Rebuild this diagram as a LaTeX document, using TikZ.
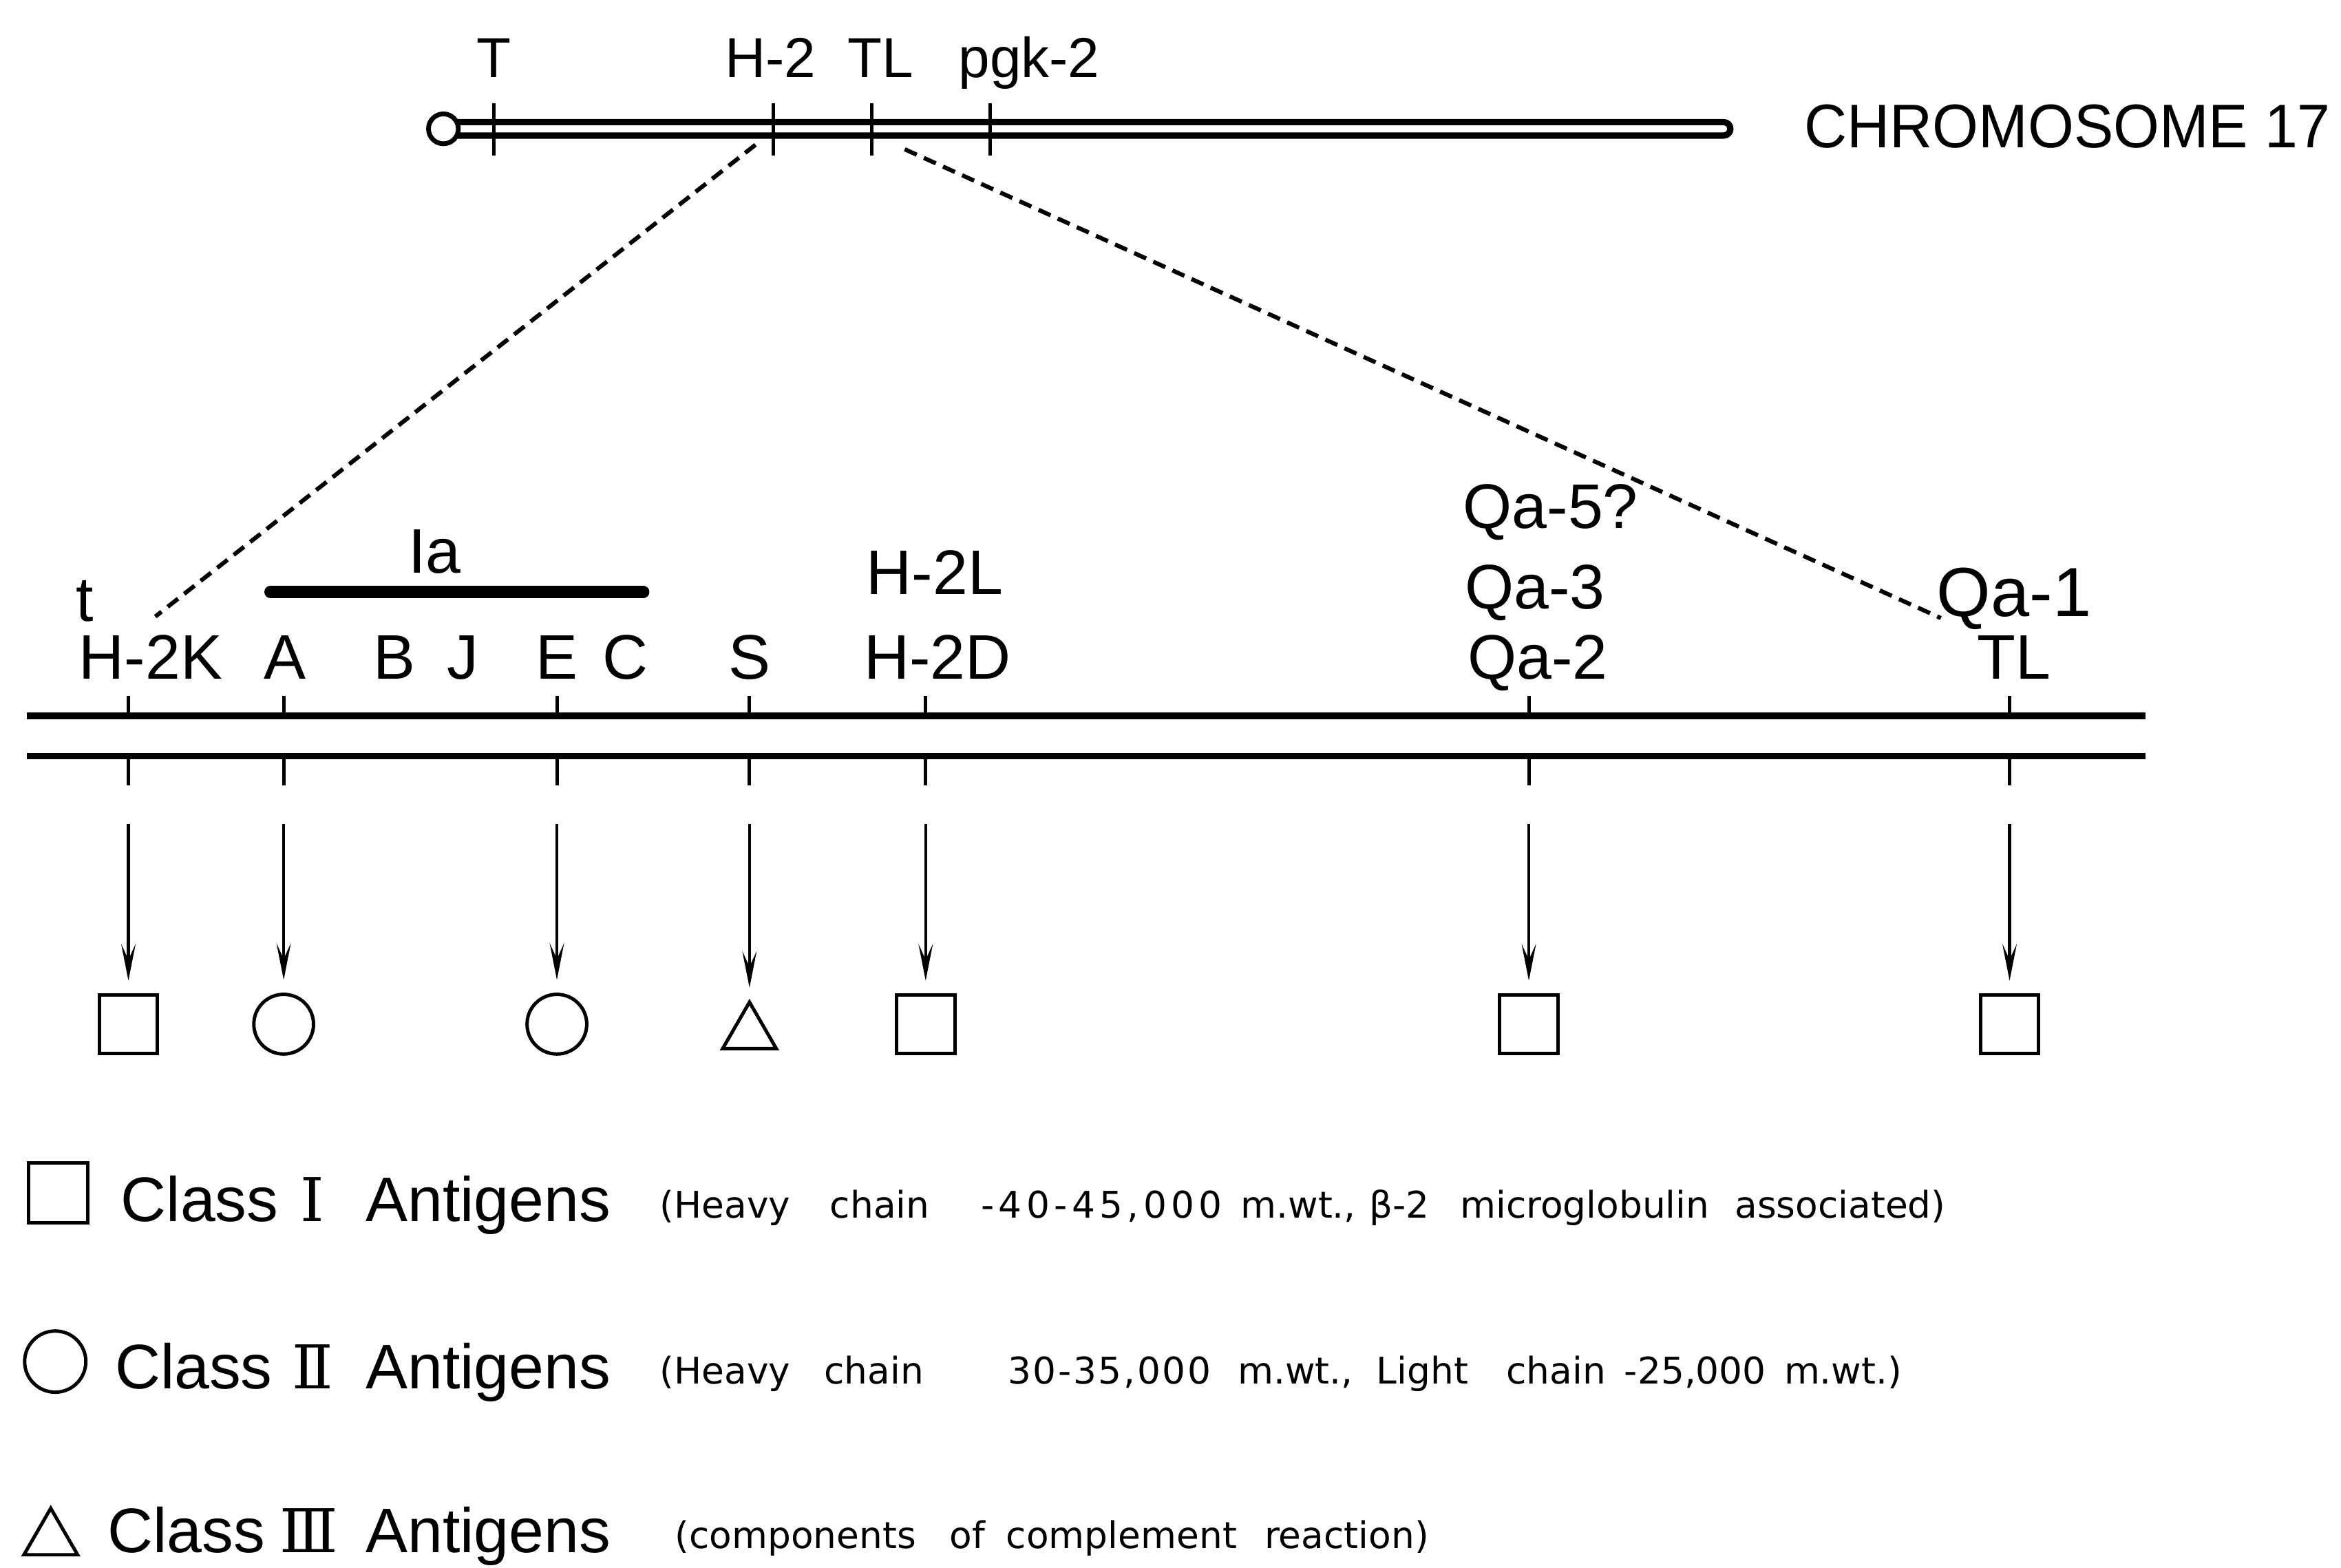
\documentclass[tikz,border=0pt]{standalone}
\usepackage{fontspec}
\setmainfont{Liberation Sans}
\newfontfamily\notefnt{DejaVu Sans}
\newfontfamily\notewide[LetterSpace=12]{DejaVu Sans}
\newfontfamily\notemid[LetterSpace=5]{DejaVu Sans}
\newfontfamily\romfnt{DejaVu Serif}
\usetikzlibrary{arrows.meta,shapes.geometric}
\begin{document}
\begin{tikzpicture}[x=0.02cm,y=-0.02cm,
  every node/.style={inner sep=0pt,outer sep=0pt},
  big/.style={font=\fontsize{24}{28}\selectfont,anchor=base},
  toplbl/.style={font=\fontsize{21.5}{26}\selectfont,anchor=base},
  note/.style={font=\notefnt\fontsize{14}{17}\selectfont,anchor=base west},
  rom/.style={font=\romfnt\fontsize{23}{27}\selectfont,anchor=base},
  tick/.style={line width=1.3pt},
  mapline/.style={line width=2.4pt},
  dashline/.style={line width=1.6pt,dash pattern=on 5pt off 3pt},
  genearrow/.style={line width=1.1pt,-{Stealth[length=14pt,width=5.5pt,inset=6pt]},shorten >=5.5pt},
  sq/.style={draw,line width=1.3pt,rectangle,minimum size=0.78cm},
  circ/.style={draw,line width=1.3pt,circle,minimum size=0.8cm},
  tri/.style={draw,line width=1.3pt,regular polygon,regular polygon sides=3,minimum size=0.83cm},
]
\useasboundingbox (0,0) rectangle (1568,1050);

% ---- chromosome 17 ----
\draw[line width=2.4pt,rounded corners=0.09cm] (300,81.8) rectangle (1159,90.8);
\node[draw,circle,fill=white,line width=1.8pt,minimum size=0.4cm] (cen) at (297,86.3) {};
\foreach \x in {331,518,584,663} \draw[tick] (\x,69) -- (\x,104);
\node[toplbl] (lT) at (331,52) {T};
\node[toplbl] (lH2) at (516,52) {H-2};
\node[toplbl] (lTL) at (590,52) {TL};
\node[toplbl,anchor=base west] (lpgk) at (642,52) {pgk-2};
\node[anchor=base east,font=\fontsize{23.5}{28}\selectfont] (chr) at (1561,99) {\scalebox{0.96}[1]{CHROMOSOME 17}};

% ---- expansion lines ----
\coordinate (dA) at (506,97);
\coordinate (dB) at (104,413);
\coordinate (dC) at (606,100);
\coordinate (dD) at (1300,414);
\draw[dashline] (dA) -- (dB);
\draw[dashline] (dC) -- (dD);

% ---- H-2 map ----
\draw[mapline] (18,479.5) -- (1437,479.5);
\draw[mapline] (18,506.5) -- (1437,506.5);
\foreach \x in {86,190,373,502,620,1024,1346} {
  \draw[tick] (\x,466) -- (\x,480);
  \draw[tick] (\x,506) -- (\x,526);
}
\node[big] (gK) at (101,455) {H-2K};
\node[big] (gA) at (191,455) {A};
\node[big] (gB) at (264,455) {B};
\node[big] (gJ) at (310,455) {J};
\node[big] (gE) at (373,455) {E};
\node[big] (gC) at (419,455) {C};
\node[big] (gS) at (502,455) {S};
\node[big] (gD) at (628,455) {H-2D};
\node[big] (gQ2) at (1030,455) {Qa-2};
\node[big] (gTL) at (1349,455) {TL};
\node[big] (gt) at (57,416) {t};
\node[big] (gIa) at (291,384) {Ia};
\draw[line width=4.5pt,line cap=round] (181,396.5) -- (431,396.5);
\node[big] (gL) at (626,398) {H-2L};
\node[big] (gQ3) at (1028,408) {Qa-3};
\node[big,anchor=base west] (gQ5) at (980,354) {Qa-5?};
\node[big,font=\fontsize{26.5}{30}\selectfont] (gQ1) at (1349,413) {Qa-1};

% ---- products ----
\node[sq] (sK) at (86,686) {};
\node[circ] (sA) at (190,686) {};
\node[circ] (sE) at (373,686) {};
\node[tri] (sS) at (502,692) {};
\node[sq] (sD) at (620,686) {};
\node[sq] (sQ) at (1024,686) {};
\node[sq] (sT) at (1346,686) {};
\coordinate (aK) at (86,552);
\coordinate (aA) at (190,552);
\coordinate (aE) at (373,552);
\coordinate (aS) at (502,552);
\coordinate (aD) at (620,552);
\coordinate (aQ) at (1024,552);
\coordinate (aT) at (1346,552);
\draw[genearrow] (aK) -- (sK.north);
\draw[genearrow] (aA) -- (sA.north);
\draw[genearrow] (aE) -- (sE.north);
\draw[genearrow] (aS) -- (sS.north);
\draw[genearrow] (aD) -- (sD.north);
\draw[genearrow] (aQ) -- (sQ.north);
\draw[genearrow] (aT) -- (sT.north);

% ---- legend ----
\node[sq,minimum size=0.8cm] (k1) at (39,799) {};
\node[big,anchor=base west] (c1) at (81,818) {Class};
\node[rom] (r1) at (209,818) {Ⅰ};
\node[big,anchor=base west] (n1) at (245,818) {Antigens};
\node[note] (p1a) at (442,816) {(Heavy};
\node[note] (p1b) at (556,816) {chain};
\node[note,font=\notewide\fontsize{14}{17}\selectfont] (p1c) at (657,816) {-40-45,000};
\node[note] (p1d) at (831,816) {m.wt.,};
\node[note] (p1e) at (917,816) {β-2};
\node[note] (p1f) at (978,816) {microglobulin};
\node[note] (p1g) at (1162,816) {associated)};

\node[circ,minimum size=0.82cm] (k2) at (37,912) {};
\node[big,anchor=base west] (c2) at (77,930) {Class};
\node[rom] (r2) at (209.5,930) {Ⅱ};
\node[big,anchor=base west] (n2) at (245,930) {Antigens};
\node[note] (p2a) at (442,927) {(Heavy};
\node[note] (p2b) at (552,927) {chain};
\node[note,font=\notemid\fontsize{14}{17}\selectfont] (p2c) at (675,927) {30-35,000};
\node[note] (p2d) at (829,927) {m.wt.,};
\node[note] (p2e) at (922,927) {Light};
\node[note] (p2f) at (1009,927) {chain};
\node[note] (p2g) at (1088,927) {-25,000};
\node[note] (p2h) at (1195,927) {m.wt.)};

\node[tri] (k3) at (34,1031) {};
\node[big,anchor=base west] (c3) at (72,1040) {Class};
\node[rom] (r3) at (207,1040) {Ⅲ};
\node[big,anchor=base west] (n3) at (245,1040) {Antigens};
\node[note] (p3a) at (452,1037) {(components};
\node[note] (p3b) at (636,1037) {of};
\node[note] (p3c) at (674,1037) {complement};
\node[note] (p3d) at (847,1037) {reaction)};
\end{tikzpicture}
\end{document}
